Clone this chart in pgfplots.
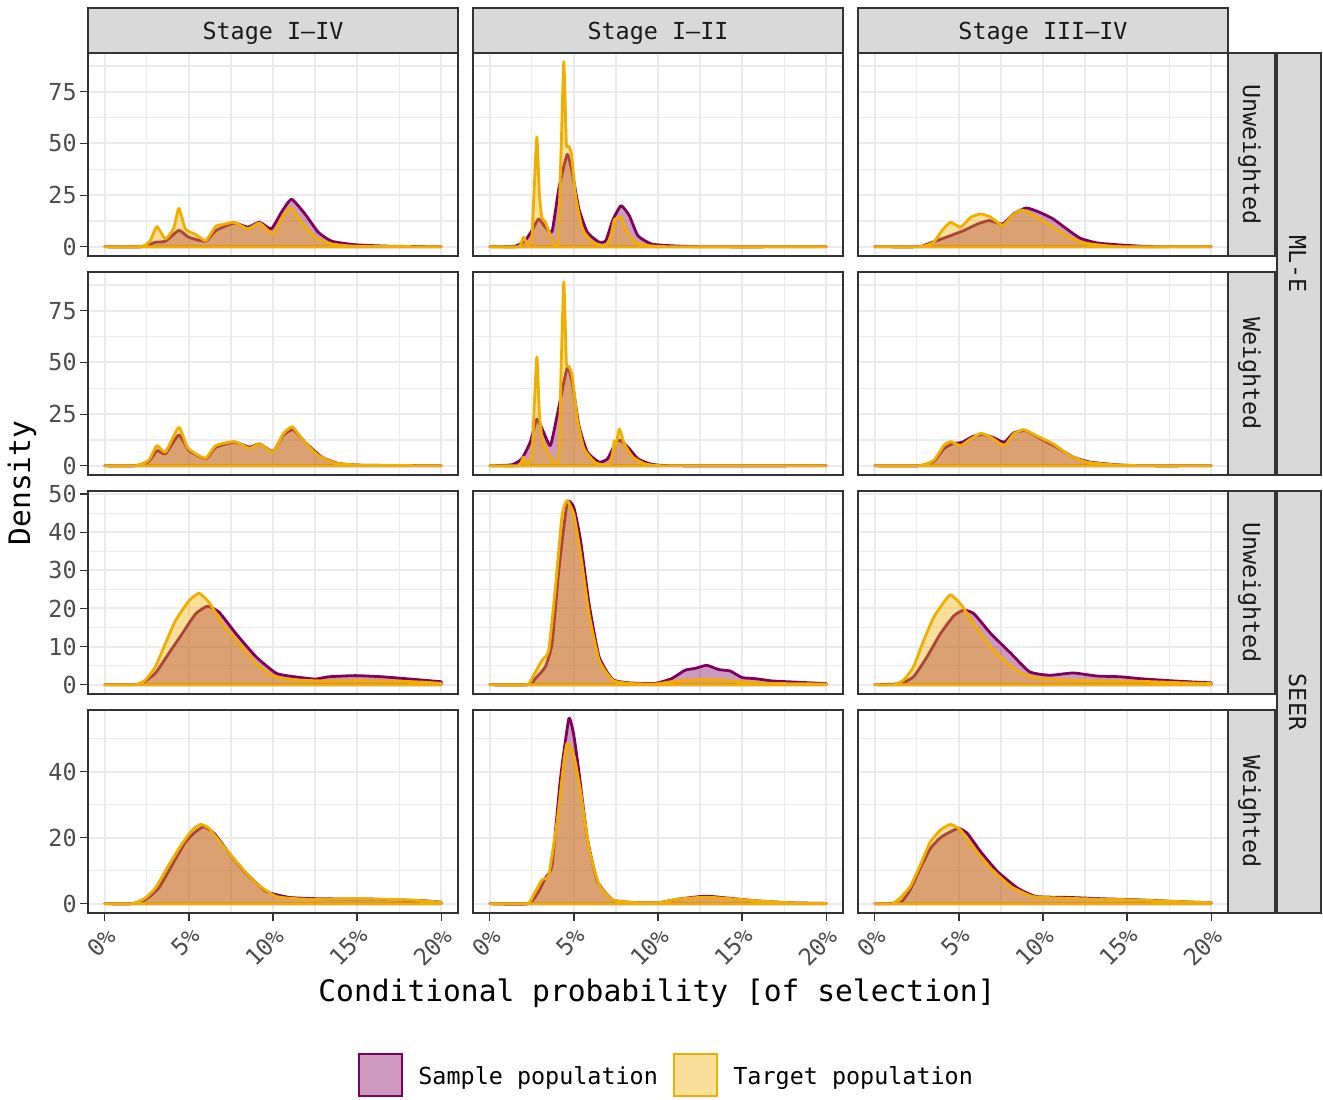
\documentclass[border=0pt]{standalone}
\usepackage{fontspec}
\setmainfont{DejaVu Sans Mono}
\usepackage{pgfplots}
\pgfplotsset{compat=1.18}
\definecolor{samplec}{HTML}{800060}
\definecolor{targetc}{HTML}{F0AE00}
\definecolor{gridc}{HTML}{EBEBEB}
\definecolor{grey20}{HTML}{333333}
\definecolor{grey30}{HTML}{4D4D4D}
\definecolor{stripc}{HTML}{D9D9D9}
\definecolor{grey10}{HTML}{1A1A1A}
\newcommand{\smallf}{\fontsize{11.7}{14}\selectfont}
\newcommand{\bigf}{\fontsize{14.8}{17}\selectfont}
\pgfplotsset{
  base/.style={scale only axis, width=185pt, height=101.5pt, anchor=north west,
    xmin=-1, xmax=21,
    xtick={0,5,10,15,20}, minor xtick={2.5,7.5,12.5,17.5},
    grid=both,
    major grid style={draw=gridc, line width=1pt},
    minor grid style={draw=gridc, line width=0.6pt},
    axis line style={draw=grey20, line width=0.6pt},
    tick align=outside, major tick length=4pt, minor tick length=0pt,
    xtick pos=bottom, ytick pos=left,
    ticklabel style={font=\smallf, text=grey30},
    /pgf/number format/assume math mode=true,
    xticklabels={},
    xtick style={draw=none}, ytick style={draw=none},
  },
  noy/.style={yticklabels={}},
  withy/.style={ytick style={draw=grey20, line width=0.6pt}, yticklabel style={inner sep=1.5pt}},
  withx/.style={xtick style={draw=grey20, line width=0.6pt},
    xticklabels={0\%,5\%,10\%,15\%,20\%},
    xticklabel style={rotate=45, anchor=north east, inner sep=1.5pt}},
  mle/.style={ymin=-4.45, ymax=93.75, ytick={0,25,50,75}, minor ytick={12.5,37.5,62.5,87.5}},
  seerU/.style={ymin=-2.42, ymax=50.8, ytick={0,10,20,30,40,50}, minor ytick={5,15,25,35,45}},
  seerW/.style={ymin=-2.8, ymax=58.6, ytick={0,20,40}, minor ytick={10,30,50}},
  samp/.style={draw=samplec, line width=1.4pt, fill=samplec, fill opacity=0.4, line join=round, smooth, tension=0.3},
  targ/.style={draw=targetc, line width=1.4pt, fill=targetc, fill opacity=0.4, line join=round, smooth, tension=0.3},
}
\begin{document}
\begin{tikzpicture}
\path[use as bounding box] (0,0) rectangle (661.5pt,-549.5pt);

% ---------- Row 1: ML-E Unweighted ----------
\begin{axis}[base, mle, withy, at={(44pt,-26.5pt)}]
\addplot[samp] coordinates {(0,0)(2.2,0)(3,2.2)(3.6,2.7)(4.4,7.9)(5,4.6)(6,2.7)(6.6,7.9)(7.7,11.5)(8.5,9.5)(9.2,11.9)(9.9,8.7)(10.5,16.7)(11.1,23)(11.9,15.9)(12.7,7)(13.5,2.7)(14.9,1)(16.9,0.3)(20,0)} \closedcycle;
\addplot[targ] coordinates {(0,0)(2,0)(2.4,0.8)(2.7,3)(3.1,9.8)(3.6,3.8)(4.1,9)(4.4,18.6)(4.8,8.5)(5.4,6)(6.0,3)(6.6,10)(7.0,10.7)(7.7,11.9)(8.5,8.7)(9.2,11.5)(10.0,6.3)(10.6,15)(11.05,19)(11.7,11.9)(12.5,4.6)(13.5,1.4)(14.9,0.3)(20,0)} \closedcycle;
\end{axis}
\begin{axis}[base, mle, noy, at={(236.5pt,-26.5pt)}]
\addplot[samp] coordinates {(0,0)(1.5,0.3)(2.1,3)(2.5,7.9)(2.9,13.5)(3.3,9.5)(3.7,7.4)(4.1,28)(4.6,44.7)(4.9,35.9)(5.3,18.3)(5.8,7)(6.5,2.2)(6.9,3)(7.3,12.7)(7.8,19.9)(8.3,15)(8.8,5.4)(9.6,1.4)(10.8,0.5)(13,0)(20,0)} \closedcycle;
\addplot[targ] coordinates {(0,0)(1.7,0)(2.0,4.6)(2.3,0.6)(2.5,5)(2.65,30)(2.8,53)(2.95,25)(3.1,14)(3.3,12)(3.7,3.8)(4.05,1.4)(4.25,50)(4.4,89.5)(4.55,50)(4.7,48.7)(4.85,45)(5.1,24.7)(5.5,8.7)(6.1,2.2)(6.9,0.6)(7.2,5.4)(7.4,13)(7.8,14.3)(8.2,6.3)(8.7,2)(9.4,0.6)(11,0)(20,0)} \closedcycle;
\end{axis}
\begin{axis}[base, mle, noy, at={(429pt,-26.5pt)}]
\addplot[samp] coordinates {(0,0)(2.6,0)(2.9,0.6)(3.7,3)(4.5,5.4)(5.3,7.9)(6.1,11)(6.8,12.7)(7.6,11)(8.25,15.9)(9.0,18.8)(9.8,16.7)(10.6,13.5)(11.4,8.7)(12.2,4.2)(13.2,1.9)(14.4,1)(15.8,0.3)(17,0)(20,0)} \closedcycle;
\addplot[targ] coordinates {(0,0)(2.5,0)(3.0,0.6)(3.5,2.2)(4.0,7.9)(4.5,11.9)(5.1,9.5)(5.7,14.3)(6.3,15.9)(6.9,14.3)(7.6,10.3)(8.2,15.4)(8.75,17.8)(9.4,15.5)(10.4,10.6)(11.4,5.4)(12.4,1.9)(13.8,0.5)(15,0)(20,0)} \closedcycle;
\end{axis}

% ---------- Row 2: ML-E Weighted ----------
\begin{axis}[base, mle, withy, at={(44pt,-136pt)}]
\addplot[samp] coordinates {(0,0)(1.8,0)(2.6,2)(3.1,7.4)(3.6,5.8)(4.4,14.9)(5.0,7.4)(6.0,3.4)(6.6,9)(7.7,11.4)(8.6,9)(9.2,10.6)(10,6.9)(10.6,14.7)(11.2,17.5)(11.9,11.4)(12.9,4.2)(13.9,1.1)(15.3,0.3)(20,0)} \closedcycle;
\addplot[targ] coordinates {(0,0)(1.8,0)(2.6,2.6)(3.1,9.8)(3.6,6.6)(4.4,18.6)(4.9,9)(5.4,5.8)(6.0,3.7)(6.6,9.8)(7.7,11.7)(8.6,8.5)(9.2,10.6)(10.0,6.6)(10.6,15.4)(11.15,18.9)(11.8,12.2)(12.7,5)(13.7,1.4)(15.3,0.3)(20,0)} \closedcycle;
\end{axis}
\begin{axis}[base, mle, noy, at={(236.5pt,-136pt)}]
\addplot[samp] coordinates {(0,0)(1.3,0.5)(1.9,3.4)(2.4,11.4)(2.8,22.6)(3.2,16.2)(3.6,9.8)(4.0,24.2)(4.6,47.4)(4.9,40.2)(5.3,19.4)(5.8,6.6)(6.5,1.8)(7.0,3.4)(7.5,11.4)(7.8,12.2)(8.3,8.2)(8.8,3.4)(9.6,0.8)(11,0)(20,0)} \closedcycle;
\addplot[targ] coordinates {(0,0)(1.7,0)(2.0,4.2)(2.2,0.5)(2.5,5)(2.65,30)(2.8,52.7)(2.95,25)(3.1,14)(3.3,9)(3.8,1.8)(4.1,5)(4.25,50)(4.4,89)(4.55,50)(4.7,48.2)(4.9,43.4)(5.2,22.6)(5.6,8.2)(6.3,1.4)(7.1,0.5)(7.3,6)(7.4,12.2)(7.5,9.8)(7.7,17.8)(8.0,10.6)(8.5,4.2)(9.2,1)(9.8,0.2)(11,0)(20,0)} \closedcycle;
\end{axis}
\begin{axis}[base, mle, noy, at={(429pt,-136pt)}]
\addplot[samp] coordinates {(0,0)(2.6,0)(3.5,2.1)(4.1,8.2)(4.6,10.6)(5.2,11.4)(5.8,14.1)(6.4,15.1)(7.0,13.8)(7.7,11.4)(8.25,15.9)(8.95,17)(9.7,13.8)(10.8,9)(11.8,4.2)(12.8,1.8)(14.4,0.5)(16,0)(20,0)} \closedcycle;
\addplot[targ] coordinates {(0,0)(2.6,0)(3.5,2.6)(4.1,9.8)(4.5,11.7)(5.1,9.8)(5.7,13)(6.3,15.7)(6.9,13.8)(7.7,9.8)(8.25,15.4)(8.85,17.5)(9.6,14.6)(10.6,10.6)(11.6,5)(12.6,1.8)(14.2,0.5)(16,0)(20,0)} \closedcycle;
\end{axis}

% ---------- Row 3: SEER Unweighted ----------
\begin{axis}[base, seerU, withy, at={(44pt,-245.5pt)}]
\addplot[samp] coordinates {(0,0)(1.8,0)(2.2,0.35)(3.0,3)(3.8,8.2)(4.6,13.4)(5.4,18.6)(6.1,20.6)(6.8,19)(7.8,13.4)(9.0,7.3)(10.2,3)(11.3,2.1)(12.5,1.5)(13.3,2.1)(14.9,2.4)(16.5,2.1)(17.9,1.6)(20,0.8)} \closedcycle;
\addplot[targ] coordinates {(0,0)(1.8,0)(2.4,1.2)(3.0,4.7)(3.6,10.8)(4.2,16.8)(5.0,22)(5.6,24)(6.2,21.6)(7.0,16)(8.0,10.8)(9.0,5.6)(10.0,2.3)(11.0,1.4)(12.9,1)(14.9,1.1)(16.9,1)(18.9,0.7)(20,0.35)} \closedcycle;
\end{axis}
\begin{axis}[base, seerU, noy, at={(236.5pt,-245.5pt)}]
\addplot[samp] coordinates {(0,0)(2.3,0)(2.7,1.6)(3.3,4.7)(3.7,10.8)(4.1,29.9)(4.6,47.7)(5.0,46.4)(5.4,37.7)(5.9,21.2)(6.5,7.3)(7.3,1.4)(8.3,0.5)(9.8,0.35)(10.8,1.6)(11.6,3.8)(12.2,4.3)(12.9,5.1)(13.6,4)(14.3,3.6)(15.0,1.9)(15.8,1.6)(16.8,1)(18.2,0.7)(20,0.3)} \closedcycle;
\addplot[targ] coordinates {(0,0)(2.2,0)(2.6,2.5)(3.1,6.4)(3.5,9)(3.9,25.5)(4.3,44.6)(4.6,48.3)(5.0,44.6)(5.4,34.2)(5.9,18.6)(6.5,6.4)(7.3,1.2)(8.3,0.35)(9.8,0.2)(10.8,0.8)(11.8,1.2)(12.8,1.4)(13.8,1.2)(14.8,0.8)(16.8,0.35)(20,0.2)} \closedcycle;
\end{axis}
\begin{axis}[base, seerU, noy, at={(429pt,-245.5pt)}]
\addplot[samp] coordinates {(0,0)(1.5,0.3)(2.3,2.1)(3.1,7.3)(3.9,13.4)(4.7,18.1)(5.3,19.6)(5.9,18.6)(6.9,13.4)(8.1,8.2)(9.2,3.4)(10.4,2.5)(11.8,3.1)(13.2,2.3)(14.6,2.1)(15.8,1.6)(17.8,1)(20,0.5)} \closedcycle;
\addplot[targ] coordinates {(0,0)(1.1,0)(1.7,1.2)(2.3,4.7)(2.9,11.6)(3.5,17.7)(4.1,21.6)(4.5,23.6)(5.1,21.2)(5.9,16)(6.9,9.9)(7.9,5.6)(8.8,2.8)(10,1.6)(11.8,1.2)(13.8,1)(15.8,0.9)(17.8,0.6)(20,0.3)} \closedcycle;
\end{axis}

% ---------- Row 4: SEER Weighted ----------
\begin{axis}[base, seerW, withy, withx, at={(44pt,-355pt)}]
\addplot[samp] coordinates {(0,0)(1.6,0)(2.4,1.2)(3.2,4.7)(4.0,11.7)(4.8,18.7)(5.4,21.8)(5.9,23.3)(6.5,21.3)(7.4,15.2)(8.4,9.2)(9.6,3.7)(11,1.9)(12.9,1.5)(15.9,1.4)(18.9,0.9)(20,0.5)} \closedcycle;
\addplot[targ] coordinates {(0,0)(1.6,0)(2.4,1.7)(3.0,4.7)(3.8,11.7)(4.6,18.2)(5.2,22.3)(5.7,24)(6.2,22.8)(7.0,17.7)(8.0,11.7)(9.0,6.2)(10.2,2.2)(11.9,1.4)(14.9,1.5)(17.9,1.2)(20,0.5)} \closedcycle;
\end{axis}
\begin{axis}[base, seerW, noy, withx, at={(236.5pt,-355pt)}]
\addplot[samp] coordinates {(0,0)(2.3,0)(2.9,3.7)(3.3,7.7)(3.7,11.7)(4.2,37.8)(4.7,56)(5.0,50.8)(5.3,39.8)(5.8,19.7)(6.4,6.7)(7.3,1.2)(8.5,0.4)(10,0.3)(11.2,1.4)(12.8,2.3)(14.2,1.7)(15.8,0.9)(17.8,0.3)(20,0.1)} \closedcycle;
\addplot[targ] coordinates {(0,0)(2.2,0)(2.6,2.7)(3.1,7.2)(3.5,8.7)(4.0,24.8)(4.4,42.8)(4.6,48.6)(5.0,44.8)(5.4,33.8)(5.9,16.7)(6.5,5.7)(7.3,1.2)(8.5,0.4)(10,0.3)(11.2,1.4)(12.8,2)(14.4,1.5)(15.8,0.9)(17.8,0.3)(20,0.1)} \closedcycle;
\end{axis}
\begin{axis}[base, seerW, noy, withx, at={(429pt,-355pt)}]
\addplot[samp] coordinates {(0,0)(1.5,0.3)(2.1,4.2)(2.7,10.7)(3.3,16.7)(3.9,20)(4.5,21.8)(5.0,22.8)(5.5,21.3)(6.3,15.7)(7.3,9.7)(8.5,4.7)(9.6,2.2)(11.6,1.9)(13.6,1.5)(15.6,1.2)(17.8,0.7)(20,0.3)} \closedcycle;
\addplot[targ] coordinates {(0,0)(1.0,0)(1.5,1.7)(2.1,5.2)(2.7,11.7)(3.3,18.7)(3.9,22.3)(4.5,24)(5.1,22.3)(5.9,16.7)(6.9,10.7)(8.1,5.2)(9.4,2.2)(11.2,1.7)(13.2,1.4)(15.2,1.2)(17.8,0.7)(20,0.3)} \closedcycle;
\end{axis}

% ---------- Strips ----------
\begin{scope}[x=1pt, y=1pt, every node/.style={font=\smallf, text=grey10}]
\foreach \xl/\lab in {44/{Stage I–IV}, 236.5/{Stage I–II}, 429/{Stage III–IV}} {
  \draw[fill=stripc, draw=grey20, line width=0.6pt] (\xl,-4) rectangle ({\xl+185},-26.5);
  \node[anchor=base] at ({\xl+92.5},-19.6) {\lab};
}
\foreach \yt/\lab in {-26.5/Unweighted, -136/Weighted, -245.5/Unweighted, -355/Weighted} {
  \draw[fill=stripc, draw=grey20, line width=0.6pt] (614,\yt) rectangle (637.5,{\yt-101.5});
  \node[rotate=-90, anchor=base] at (621.6,{\yt-50.75}) {\lab};
}
\draw[fill=stripc, draw=grey20, line width=0.6pt] (638.5,-26.5) rectangle (660.5,-237.5);
\node[rotate=-90, anchor=base] at (644.6,-132) {ML-E};
\draw[fill=stripc, draw=grey20, line width=0.6pt] (638.5,-245.5) rectangle (660.5,-456.5);
\node[rotate=-90, anchor=base] at (644.6,-351) {SEER};
\end{scope}

% ---------- Axis titles ----------
\node[font=\bigf, rotate=90] at (11pt,-241.5pt) {Density};
\node[font=\bigf] at (328.5pt,-496.5pt) {Conditional probability [of selection]};

% ---------- Legend ----------
\draw[fill=samplec, fill opacity=0.4, draw=samplec, line width=1.4pt] (179.5pt,-527pt) rectangle (201pt,-548pt);
\node[font=\smallf, anchor=base west, inner sep=0pt] at (209pt,-542pt) {Sample population};
\draw[fill=targetc, fill opacity=0.4, draw=targetc, line width=1.4pt] (337pt,-527pt) rectangle (358.5pt,-548pt);
\node[font=\smallf, anchor=base west, inner sep=0pt] at (366.5pt,-542pt) {Target population};
\end{tikzpicture}
\end{document}
